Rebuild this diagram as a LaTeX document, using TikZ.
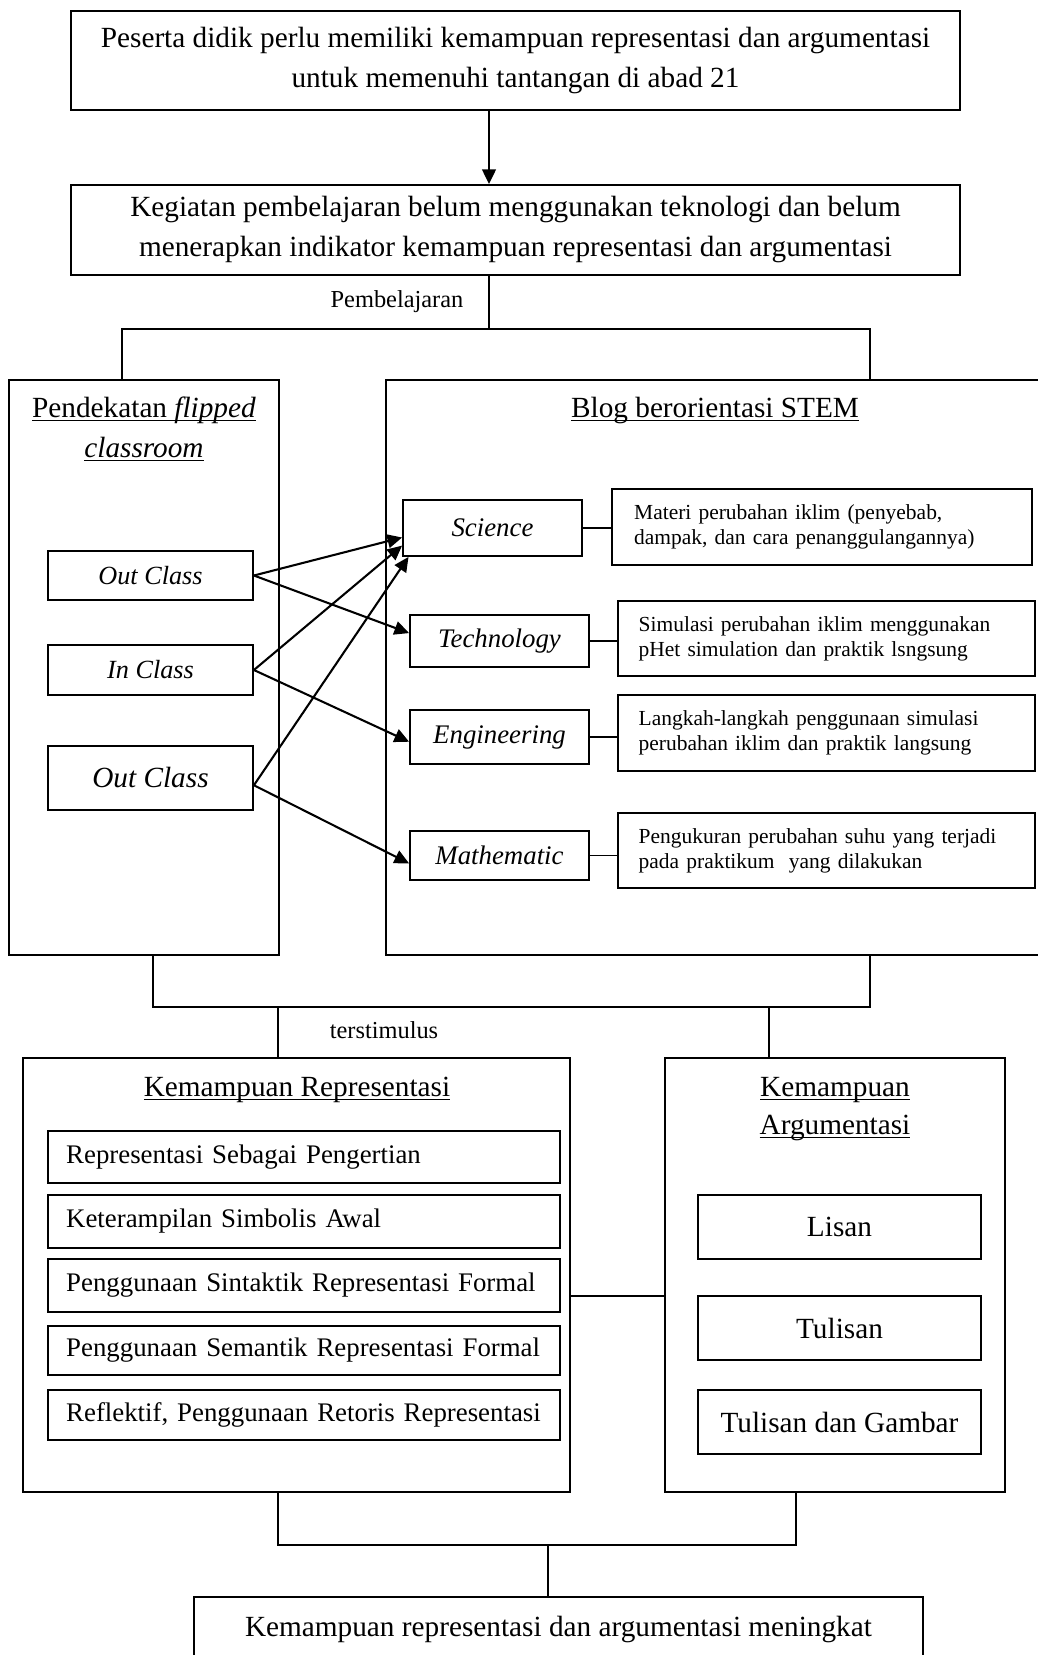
\documentclass[tikz,border=0pt]{standalone}
\usepackage{fontspec}
\setmainfont{Liberation Serif}
\usetikzlibrary{arrows.meta}

\newsavebox\undlbox
\newcommand{\undl}[1]{\sbox\undlbox{#1}\rlap{\rule[-1.6pt]{\wd\undlbox}{0.5pt}}\usebox\undlbox}

\tikzstyle{box} = [draw, rectangle, inner sep=0pt, line width=0.75pt, align=center]
\tikzset{span/.style args={#1/#2/#3/#4}{at={({(#1+#3)/2},{(#2+#4)/2})},
  minimum width={(#3-#1)*0.41pt}, minimum height={(#4-#2)*0.41pt}}}
\tikzstyle{txt} = [text centered, inner sep=0pt, anchor=base]
\tikzstyle{lbl} = [txt, font=\fontsize{10}{12}\selectfont]
\tikzstyle{cls} = [box, font=\fontsize{10.75}{13}\selectfont\itshape]
\tikzstyle{stem} = [box, font=\fontsize{11}{13}\selectfont\itshape]
\tikzstyle{desc} = [box, align=left, text width=154pt, font=\fontsize{8.8}{10.3}\selectfont]
\tikzstyle{item} = [box, align=left, text width=195pt, font=\fontsize{11}{13}\selectfont]
\tikzstyle{con} = [line width=0.6pt]
\tikzstyle{arr} = [line width=0.85pt, ->]

\begin{document}
\begin{tikzpicture}[x=0.41pt, y=-0.41pt,
>={Triangle[length=6pt,width=5.6pt]},
font=\fontsize{12}{16.4}\selectfont,
]
\useasboundingbox (0,0) rectangle (1037,1655);

%TOP
\node[box, span=71/11/960/110] (top) {Peserta didik perlu memiliki kemampuan representasi dan argumentasi\\untuk memenuhi tantangan di abad 21};
\node[box, span=71/185/960/275] (keg) {Kegiatan pembelajaran belum menggunakan teknologi dan belum\\menerapkan indikator kemampuan representasi dan argumentasi};
\coordinate (c1) at (489,329);
\draw[arr] (top.south -| c1) -- (keg.north -| c1);

%FLIPPED
\node[box, span=9/380/279/955] (flip) {};
\node[txt] (fliptit1) at (144,417) {\undl{Pendekatan \textit{flipped}}};
\node[txt] (fliptit2) at (144,457) {\undl{\textit{classroom}}};
\node[cls, span=48/551/253/600] (oc1) {Out Class};
\node[cls, span=48/645/253/695] (ic) {In Class};
\node[cls, span=48/746/253/810, font=\fontsize{12}{14}\selectfont\itshape] (oc2) {Out Class};

%BLOG
\node[box, span=386/380/1047/955] (blog) {};
\node[txt] (blogtit) at (715,417) {\undl{Blog berorientasi STEM}};
\node[stem, span=403/500/582/556] (sci) {Science};
\node[stem, span=410/615/589/667] (tech) {Technology};
\node[stem, span=410/710/589/764] (eng) {Engineering};
\node[stem, span=410/831/589/880] (math) {Mathematic};

\node[desc, span=612/489/1032/565] (scid) {Materi perubahan iklim (penyebab,\\dampak, dan cara penanggulangannya)};
\node[desc, span=618/601/1035/676] (techd) {Simulasi perubahan iklim menggunakan\\pHet simulation dan praktik lsngsung};
\node[desc, span=618/695/1035/771] (engd) {Langkah-langkah penggunaan simulasi\\perubahan iklim dan praktik langsung};
\node[desc, span=618/813/1035/888] (mathd) {Pengukuran perubahan suhu yang terjadi\\pada praktikum\ \ yang dilakukan};

\draw[con] (sci.east) -- (sci.east -| scid.west);
\draw[con] (tech.east) -- (tech.east -| techd.west);
\draw[con] (eng.east) -- (eng.east -| engd.west);
\draw[con] (math.east) -- (math.east -| mathd.west);

\draw[arr] (oc1.east) -- (sci.186);
\draw[arr] (oc1.east) -- (tech.175);
\draw[arr] (ic.east) -- (sci.191);
\draw[arr] (ic.east) -- (eng.183);
\draw[arr] (oc2.-4) -- (sci.199);
\draw[arr] (oc2.-4) -- (math.185);

%PEMBELAJARAN
\coordinate (pL) at (122,329);
\coordinate (pR) at (870,329);
\draw[con] (keg.south -| c1) -- (c1);
\draw[con] (flip.north -| pL) -- (pL) -- (pR) -- (blog.north -| pR);
\node[lbl] (pemb) at (397,307) {Pembelajaran};

%REPRESENTASI
\node[box, span=23/1058/570/1492] (rep) {};
\node[txt] (reptit) at (297,1096) {\undl{Kemampuan Representasi}};
\foreach \t/\ya/\yb [count=\i] in {Representasi Sebagai Pengertian/1131/1183,
  Keterampilan Simbolis Awal/1195/1248,
  Penggunaan Sintaktik Representasi Formal/1259/1312,
  Penggunaan Semantik Representasi Formal/1326/1375,
  {Reflektif, Penggunaan Retoris Representasi}/1390/1440} {%
 \node[item, span=48/\ya/560/\yb] (rep\i) {\t};
}

%ARGUMENTASI
\node[box, span=665/1058/1005/1492] (arg) {};
\node[txt] (argtit1) at (835,1096) {\undl{Kemampuan}};
\node[txt] (argtit2) at (835,1134) {\undl{Argumentasi}};
\foreach \t/\ya/\yb [count=\i] in {Lisan/1195/1259, Tulisan/1296/1360, Tulisan dan Gambar/1390/1454} {%
 \node[box, span=698/\ya/981/\yb] (arg\i) {\t};
}

%TERSTIMULUS
\coordinate (tL) at (153,1007);
\coordinate (tR) at (870,1007);
\coordinate (tA) at (278,1007);
\coordinate (tB) at (769,1007);
\draw[con] (flip.south -| tL) -- (tL) -- (tR) -- (blog.south -| tR);
\draw[con] (tA) -- (rep.north -| tA);
\draw[con] (tB) -- (arg.north -| tB);
\node[lbl] (stim) at (384,1038) {terstimulus};

\coordinate (rj) at (0,1296);
\draw[con] (rep.east |- rj) -- (arg.west |- rj);

%MENINGKAT
\node[box, span=194/1597/923/1662] (final) {Kemampuan representasi dan argumentasi meningkat};
\coordinate (bL) at (278,1545);
\coordinate (bR) at (796,1545);
\coordinate (bM) at (548,1545);
\draw[con] (rep.south -| bL) -- (bL) -- (bR) -- (arg.south -| bR);
\draw[con] (bM) -- (final.north -| bM);

\end{tikzpicture}
\end{document}
